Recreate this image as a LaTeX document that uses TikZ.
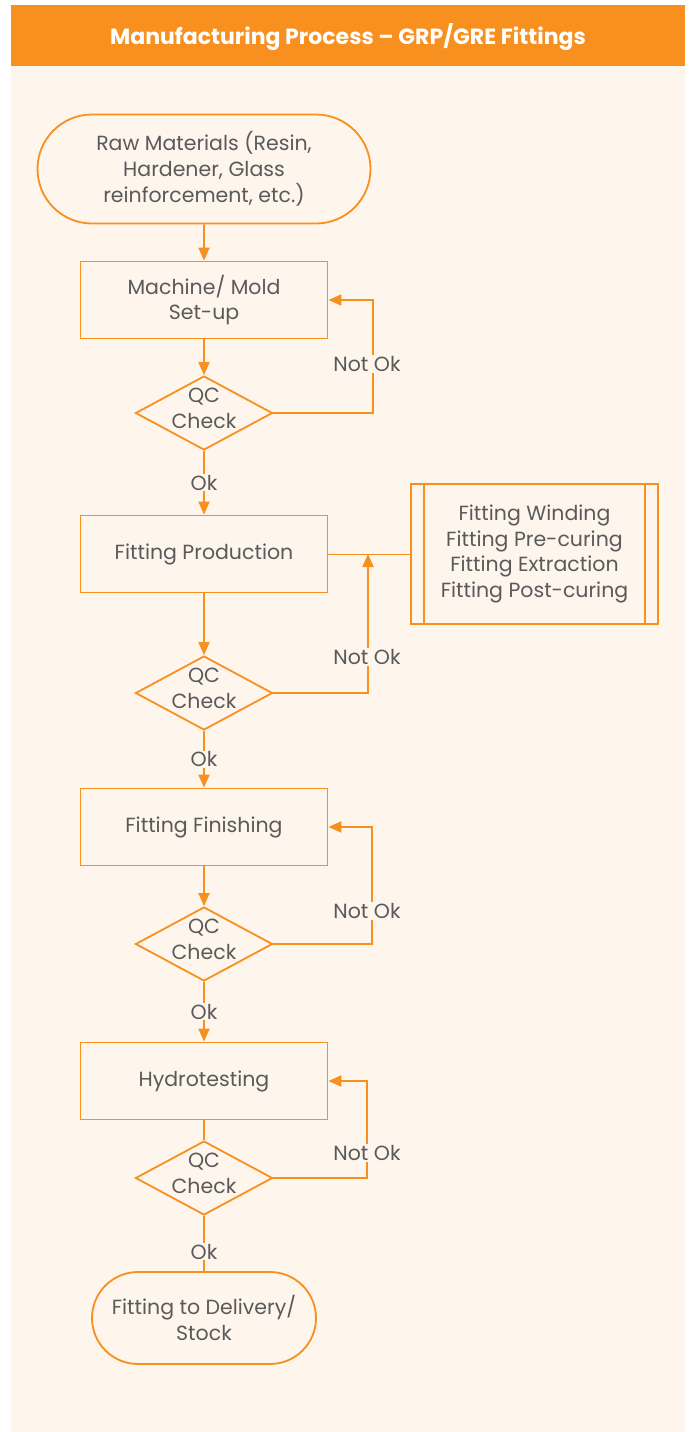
\documentclass[tikz,border=0pt]{standalone}
\usepackage{fontspec}
\setmainfont{Poppins}
\usepackage{tikz}
\usetikzlibrary{calc, positioning, shapes.geometric, shapes.misc, arrows.meta}
\usepackage{xcolor}

\definecolor{brand}{HTML}{F7901E}
\definecolor{bg}{HTML}{FEF5EC}
\definecolor{ink}{HTML}{5A5A5A}
\newcommand{\bodyfont}{\fontsize{20.5}{25.7}\selectfont}

\begin{document}
\begin{tikzpicture}[x=1pt, y=-1pt]
        % Styles
        \tikzset{
          procbox/.style={
            draw=brand, line width=1.8pt, fill=bg,
            minimum width=247pt, minimum height=77pt,
            align=center, text=ink, font=\bodyfont
          },
          termbox/.style={
            procbox, rounded rectangle, inner sep=0pt
          },
          qcbox/.style={
            diamond, draw=brand, line width=1.8pt, fill=bg,
            aspect=1.85, inner sep=0pt,
            minimum width=137pt, minimum height=74pt
          },
          qctext/.style={align=center, text=ink, font=\bodyfont, inner sep=0pt},
          flow/.style={
            draw=brand, line width=1.8pt,
            -{Triangle[length=13pt,width=11pt]}
          },
          link/.style={draw=brand, line width=1.8pt},
          tag/.style={fill=bg, text=ink, font=\bodyfont, inner sep=1pt}
        }

        \useasboundingbox (0,0) rectangle (690,1432);

        % banner and page
        \fill[brand] (11,5) rectangle (685,66);
        \fill[bg] (11,66) rectangle (685,1432);
        \node[text=white, font=\fontsize{22}{24}\selectfont\bfseries] (title) at (348,37)
          {Manufacturing Process -- GRP/GRE Fittings};

        % main column
        \node[termbox, minimum width=333pt, minimum height=109pt] (raw) at (204,169)
          {Raw Materials (Resin,\\Hardener, Glass\\reinforcement, etc.)};
        \node[procbox] (mold) at (204,300) {Machine/ Mold\\Set-up};
        \node[qcbox] (qc1) at (204,413) {};
        \node[procbox] (prod) at (204,554) {Fitting Production};
        \node[qcbox] (qc2) at (204,693) {};
        \node[procbox] (finish) at (204,827) {Fitting Finishing};
        \node[qcbox] (qc3) at (204,944) {};
        \node[procbox] (hydro) at (204,1081) {Hydrotesting};
        \node[qcbox] (qc4) at (204,1178) {};
        \node[termbox, minimum width=224pt, minimum height=92pt] (stock) at (204,1318)
          {Fitting to Delivery/\\Stock};

        % QC texts
        \foreach \q in {qc1,qc2,qc3,qc4}
          \node[qctext] (\q-txt) at ($(\q)+(0,-5)$) {QC\\Check};

        % sub-steps of production (predefined process)
        \node[procbox, minimum width=247pt, minimum height=140pt] (side) at (534.5,554)
          {Fitting Winding\\Fitting Pre-curing\\Fitting Extraction\\Fitting Post-curing};
        \draw[link] ($(side.north west)+(14,0)$) -- ($(side.south west)+(14,0)$);
        \draw[link] ($(side.north east)+(-14,0)$) -- ($(side.south east)+(-14,0)$);

        % forward flow
        \draw[flow] (raw) -- (mold);
        \draw[flow] (mold) -- (qc1);
        \draw[flow] (qc1) -- (prod) node[tag, midway] (ok1) {Ok};
        \draw[flow] (prod) -- (qc2);
        \draw[flow] (qc2) -- (finish) node[tag, midway] (ok2) {Ok};
        \draw[flow] (finish) -- (qc3);
        \draw[flow] (qc3) -- (hydro) node[tag, midway] (ok3) {Ok};
        \draw[link] (hydro) -- (qc4);
        \draw[link] (qc4) -- (stock) node[tag, pos=0.65] (ok4) {Ok};

        % rework loops
        \coordinate (back1) at (373,0);
        \coordinate (back2) at (368,0);
        \coordinate (back3) at (372,0);
        \coordinate (back4) at (367,0);
        \draw[link, line width=0.9pt] (prod.east) -- (side.west);
        \draw[flow] (qc1.east) -| (back1 |- mold.east) -- (mold.east);
        \draw[flow] (qc2.east) -| (back2 |- prod.east);
        \draw[flow] (qc3.east) -| (back3 |- finish.east) -- (finish.east);
        \draw[flow] (qc4.east) -| (back4 |- hydro.east) -- (hydro.east);

        % Not Ok labels
        \node[tag] (nok1) at (367,364) {Not Ok};
        \node[tag] (nok2) at (367,657) {Not Ok};
        \node[tag] (nok3) at (367,911) {Not Ok};
        \node[tag] (nok4) at (367,1153) {Not Ok};
    \end{tikzpicture}
\end{document}
